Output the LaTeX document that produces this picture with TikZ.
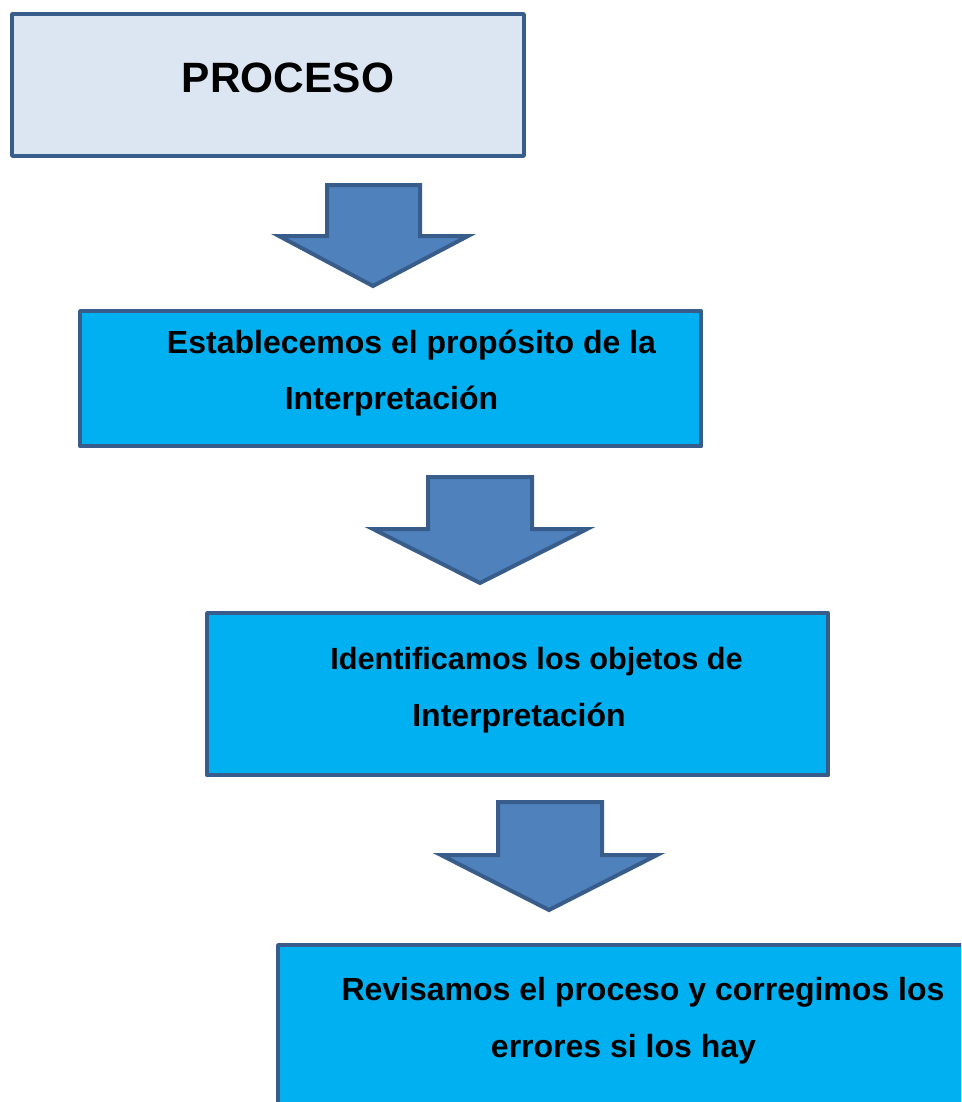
\documentclass[tikz,border=0pt]{standalone}
\usepackage{fontspec}
\setmainfont{Liberation Sans}
\definecolor{boxline}{HTML}{385D8A}
\definecolor{titlefill}{HTML}{DCE6F2}
\definecolor{stepfill}{HTML}{00B0F0}
\definecolor{arrowfill}{HTML}{4F81BD}

\begin{document}
\begin{tikzpicture}[x=0.75pt,y=-0.75pt,
  titlebox/.style={draw=boxline,fill=titlefill,line width=3.3pt,line join=round,anchor=north west,inner sep=0pt},
  stepbox/.style={draw=boxline,fill=stepfill,line width=3.3pt,line join=round,anchor=north west,inner sep=0pt},
  downarrow/.style={draw=boxline,fill=arrowfill,line width=3pt},
  titletext/.style={anchor=base,inner sep=0pt,font=\bfseries\fontsize{31.8}{36}\selectfont},
  steptext/.style={anchor=base,inner sep=0pt,font=\bfseries\fontsize{24}{28}\selectfont}]
\useasboundingbox (0,0) rectangle (961,1102);
\clip (0,0) rectangle (961,1102);
\node[titlebox,minimum width=383.7pt,minimum height=106.2pt] (proceso) at (10,12) {};
\node[titletext] (procesotext) at (288,93) {PROCESO};
\draw[downarrow] (327,185) -- (420,185) -- (420,236) -- (468,236) -- (373,286) -- (279,236) -- (327,236) -- cycle;
\node[stepbox,minimum width=465.75pt,minimum height=101.25pt] (proposito) at (78,309) {};
\node[steptext] (proposito1) at (411.5,353) {Establecemos el propósito de la};
\node[steptext] (proposito2) at (391.5,409) {Interpretación};
\draw[downarrow] (428,477) -- (532,477) -- (532,529) -- (587,529) -- (480,583) -- (373,529) -- (428,529) -- cycle;
\node[stepbox,minimum width=465.75pt,minimum height=121.5pt] (objetos) at (205,611) {};
\node[steptext,font=\bfseries\fontsize{23}{27}\selectfont] (objetos1) at (536.5,669) {Identificamos los objetos de};
\node[steptext] (objetos2) at (519,726) {Interpretación};
\draw[downarrow] (498,802) -- (602,802) -- (602,855) -- (657,855) -- (549,910) -- (441,855) -- (498,855) -- cycle;
\node[stepbox,minimum width=562.5pt,minimum height=150pt] (revision) at (276,943) {};
\node[steptext] (revision1) at (643,1000) {Revisamos el proceso y corregimos los};
\node[steptext] (revision2) at (623.5,1057) {errores si los hay};
\end{tikzpicture}
\end{document}
